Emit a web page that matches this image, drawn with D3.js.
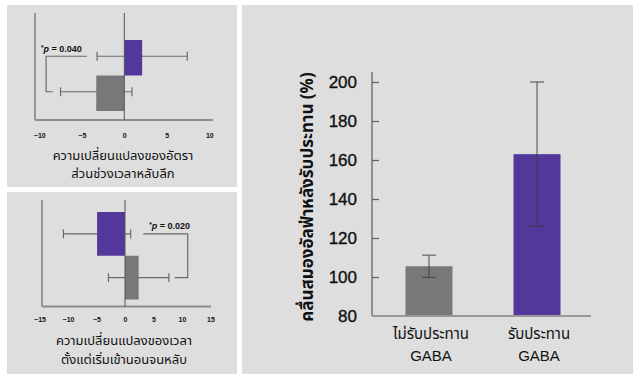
<!DOCTYPE html>
<html>
<head>
<meta charset="utf-8">
<script src="https://cdn.jsdelivr.net/npm/d3@7"></script>
<style>
  body { margin: 0; background: #fff; }
  svg { display: block; }
  text { font-family: "Noto Sans Thai", "Liberation Sans", Arial, sans-serif; }
</style>
</head>
<body>
<script>
// groups in the two small panels: purple (GABA) on top, grey (placebo) below
var groups = ["gaba", "placebo"];
var groupColor = {gaba: "#53389b", placebo: "#787878"};

// panel 1: change in deep sleep ratio
var deepMean = [2.1, -3.3];
var deepErr = [5.3, 4.2];
var deepTicks = [-10, -5, 0, 5, 10];
var deepP = "0.040";

// panel 2: change in sleep latency
var latMean = [-4.9, 2.4];
var latErr = [5.9, 5.3];
var latTicks = [-15, -10, -5, 0, 5, 10, 15];
var latP = "0.020";

// panel 3: alpha waves after intake (%)
var alphaCats = ["ไม่รับประทาน", "รับประทาน"];
var alphaMean = [105.5, 163];
var alphaErr = [5.7, 37];
var alphaTicks = [100, 120, 140, 160, 180, 200];

var W = 641, H = 381;
var panelBg = "#dedede";

var svg = d3.select("body").append("svg")
    .attr("width", W)
    .attr("height", H);

svg.append("rect").attr("width", W).attr("height", H).attr("fill", "#fff");

// grey panels
svg.append("rect").attr("x", 7).attr("y", 5).attr("width", 230).attr("height", 182).attr("fill", panelBg);
svg.append("rect").attr("x", 7).attr("y", 192).attr("width", 230).attr("height", 182).attr("fill", panelBg);
svg.append("rect").attr("x", 242).attr("y", 5).attr("width", 391).attr("height", 369).attr("fill", panelBg);

function smallPanel(opt) {
  var x = d3.scaleLinear().domain(opt.domain).range(opt.xRange);
  var y = d3.scaleBand().domain(groups).range(opt.yRange);
  var g = svg.append("g");

  // left axis line and baseline
  g.append("line")
      .attr("x1", opt.axisLeft).attr("x2", opt.axisLeft)
      .attr("y1", opt.top).attr("y2", opt.base)
      .attr("stroke", "#6e6e6e").attr("stroke-width", 1.3);
  g.append("line")
      .attr("x1", opt.axisLeft).attr("x2", opt.axisRight)
      .attr("y1", opt.base).attr("y2", opt.base)
      .attr("stroke", "#8c8c8c").attr("stroke-width", 2);

  // bottom tick labels only
  var ax = d3.axisBottom(x).tickValues(opt.ticks).tickSize(0).tickPadding(0).tickFormat(d3.format("d"));
  var axg = g.append("g")
      .attr("transform", "translate(0," + opt.tickY + ")")
      .call(ax);
  axg.select(".domain").remove();
  axg.selectAll("text")
      .attr("dy", null)
      .style("font-family", "'Liberation Sans', Arial, sans-serif")
      .style("font-size", "7px")
      .style("font-weight", "bold")
      .attr("fill", "#111");

  var rows = groups.map(function(k, i) { return {key: k, mean: opt.mean[i], err: opt.err[i]}; });

  // error bars (drawn under the bars)
  var eb = g.selectAll(".err").data(rows).enter().append("g")
      .attr("stroke", "#6a6a6a").attr("stroke-width", 1.2);
  eb.append("line")
      .attr("x1", function(d) { return x(d.mean - d.err); })
      .attr("x2", function(d) { return x(d.mean + d.err); })
      .attr("y1", function(d) { return y(d.key) + y.bandwidth() / 2 + opt.errShift; })
      .attr("y2", function(d) { return y(d.key) + y.bandwidth() / 2 + opt.errShift; });
  [-1, 1].forEach(function(s) {
    eb.append("line")
        .attr("x1", function(d) { return x(d.mean + s * d.err); })
        .attr("x2", function(d) { return x(d.mean + s * d.err); })
        .attr("y1", function(d) { return y(d.key) + y.bandwidth() / 2 + opt.errShift - 4.5; })
        .attr("y2", function(d) { return y(d.key) + y.bandwidth() / 2 + opt.errShift + 4.5; });
  });

  g.selectAll(".bar").data(rows).enter().append("rect")
      .attr("x", function(d) { return x(Math.min(0, d.mean)); })
      .attr("width", function(d) { return Math.abs(x(d.mean) - x(0)); })
      .attr("y", function(d) { return y(d.key); })
      .attr("height", y.bandwidth())
      .attr("fill", function(d) { return groupColor[d.key]; });

  // zero line
  g.append("line")
      .attr("x1", x(0)).attr("x2", x(0))
      .attr("y1", opt.top).attr("y2", opt.base)
      .attr("stroke", "#555").attr("stroke-width", 1);

  // significance bracket
  var yTop = y("gaba") + y.bandwidth() / 2 + opt.errShift;
  var yBot = y("placebo") + y.bandwidth() / 2 + opt.errShift;
  var bx = x(opt.bracket.x);
  g.append("path")
      .attr("d", "M" + x(opt.bracket.ends[0]) + "," + yTop + "H" + bx + "V" + yBot + "H" + x(opt.bracket.ends[1]))
      .attr("fill", "none").attr("stroke", "#6a6a6a").attr("stroke-width", 1.2);

  var t = g.append("text")
      .attr("x", opt.pX).attr("y", yTop - 4.5)
      .attr("text-anchor", opt.pAnchor)
      .style("font-family", "'Liberation Sans', Arial, sans-serif")
      .style("font-size", "9px")
      .style("font-weight", "bold")
      .attr("fill", "#111");
  t.append("tspan").attr("font-size", "6.5px").attr("dy", "-2").text("*");
  t.append("tspan").attr("font-style", "italic").attr("dy", "2").text("p");
  t.append("tspan").text(" = " + opt.p);

  // caption
  var cap = g.append("text")
      .attr("text-anchor", "middle")
      .style("font-size", "13px")
      .attr("fill", "#111");
  opt.caption.forEach(function(line, i) {
    cap.append("tspan").attr("x", opt.capX).attr("y", opt.capY + i * opt.capGap).text(line);
  });
}

smallPanel({
  domain: [-10, 10], xRange: [39.3, 209.3],
  yRange: [40, 111], top: 13, base: 120, axisLeft: 35, axisRight: 213,
  tickY: 138, ticks: deepTicks, mean: deepMean, err: deepErr, errShift: -1.5,
  bracket: {x: -9.2, ends: [-4.4, -8.4]},
  p: deepP, pX: 41, pAnchor: "start",
  caption: ["ความเปลี่ยนแปลงของอัตรา", "ส่วนช่วงเวลาหลับลึก"], capX: 123, capY: 160, capGap: 18
});

smallPanel({
  domain: [-15, 15], xRange: [39.5, 210.5],
  yRange: [212, 299.5], top: 200, base: 306.5, axisLeft: 42, axisRight: 211,
  tickY: 322, ticks: latTicks, mean: latMean, err: latErr, errShift: 0,
  bracket: {x: 11.0, ends: [3.2, 8.7]},
  p: latP, pX: 190, pAnchor: "end",
  caption: ["ความเปลี่ยนแปลงของเวลา", "ตั้งแต่เริ่มเข้านอนจนหลับ"], capX: 124, capY: 344.5, capGap: 19.5
});

// panel 3: vertical bar chart
var bx = d3.scaleBand().domain(alphaCats).range([372, 594]).paddingInner(0.565).paddingOuter(0.31);
var by = d3.scaleLinear().domain([80, 200]).range([316, 82]);

var g3 = svg.append("g");

// y axis: line plus inward ticks
g3.append("line")
    .attr("x1", 372).attr("x2", 372).attr("y1", 72).attr("y2", 316)
    .attr("stroke", "#666").attr("stroke-width", 1.3);
var yAx = g3.append("g")
    .attr("transform", "translate(372,0)")
    .call(d3.axisRight(by).tickValues(alphaTicks).tickSize(7).tickFormat(""));
yAx.select(".domain").remove();
yAx.selectAll("line").attr("stroke", "#666").attr("stroke-width", 1.3);

g3.selectAll(".ylab").data([80].concat(alphaTicks)).enter().append("text")
    .attr("x", 357)
    .attr("y", function(d) { return by(d) + 6; })
    .attr("text-anchor", "end")
    .style("font-family", "'Liberation Sans', Arial, sans-serif")
    .style("font-size", "17px")
    .attr("fill", "#111")
    .attr("stroke", "#111").attr("stroke-width", 0.35)
    .text(function(d) { return d; });

var alphaRows = alphaCats.map(function(c, i) { return {cat: c, mean: alphaMean[i], err: alphaErr[i], color: i ? "#53389b" : "#787878"}; });

g3.selectAll(".abar").data(alphaRows).enter().append("rect")
    .attr("x", function(d) { return bx(d.cat); })
    .attr("width", bx.bandwidth())
    .attr("y", function(d) { return by(d.mean); })
    .attr("height", function(d) { return by(80) - by(d.mean); })
    .attr("fill", function(d) { return d.color; });

// baseline
g3.append("line")
    .attr("x1", 372).attr("x2", 591).attr("y1", 316).attr("y2", 316)
    .attr("stroke", "#999").attr("stroke-width", 2);

var aeb = g3.selectAll(".aerr").data(alphaRows).enter().append("g")
    .attr("stroke", "#3a3a3a").attr("stroke-opacity", 0.75).attr("stroke-width", 1.2);
aeb.append("line")
    .attr("x1", function(d) { return bx(d.cat) + bx.bandwidth() / 2; })
    .attr("x2", function(d) { return bx(d.cat) + bx.bandwidth() / 2; })
    .attr("y1", function(d) { return by(d.mean + d.err); })
    .attr("y2", function(d) { return by(d.mean - d.err); });
[-1, 1].forEach(function(s) {
  aeb.append("line")
      .attr("x1", function(d) { return bx(d.cat) + bx.bandwidth() / 2 - 7; })
      .attr("x2", function(d) { return bx(d.cat) + bx.bandwidth() / 2 + 7; })
      .attr("y1", function(d) { return by(d.mean + s * d.err); })
      .attr("y2", function(d) { return by(d.mean + s * d.err); });
});

// category labels
var cl = g3.selectAll(".clab").data(alphaRows).enter().append("text")
    .attr("text-anchor", "middle")
    .style("font-size", "15px")
    .attr("fill", "#111");
cl.append("tspan")
    .attr("x", function(d) { return bx(d.cat) + bx.bandwidth() / 2 + 2; })
    .attr("y", 339)
    .text(function(d) { return d.cat; });
cl.append("tspan")
    .attr("x", function(d) { return bx(d.cat) + bx.bandwidth() / 2 + 2; })
    .attr("y", 361)
    .style("font-family", "'Liberation Sans', Arial, sans-serif")
    .text("GABA");

// y axis title
g3.append("text")
    .attr("transform", "translate(313,197) rotate(-90)")
    .attr("text-anchor", "middle")
    .style("font-size", "17px")
    .style("font-weight", "bold")
    .attr("fill", "#111")
    .text("คลื่นสมองอัลฟ่าหลังรับประทาน (%)");
</script>
</body>
</html>
